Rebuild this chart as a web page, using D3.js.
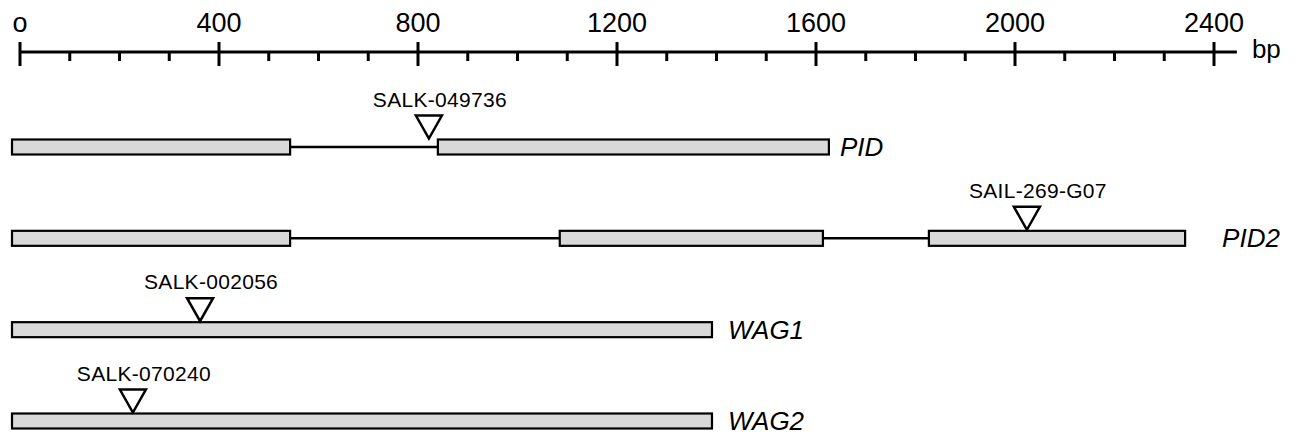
<!DOCTYPE html>
<html>
<head>
<meta charset="utf-8">
<script src="https://cdn.jsdelivr.net/npm/d3@7"></script>
<style>
  body { margin: 0; background: #fff; }
  text { font-family: "Liberation Sans", Arial, Helvetica, sans-serif; fill: #000; }
</style>
</head>
<body>
<div id="container"></div>
<script>
// window size
let cwW = 1302;
let cwH = 437;

// axis (bp)
const majorTicks = [0, 400, 800, 1200, 1600, 2000, 2400];
const tickLabels = ["o", "400", "800", "1200", "1600", "2000", "2400"];
const minorTicks = [100, 200, 300, 500, 600, 700, 900, 1000, 1100, 1300, 1400, 1500,
                    1700, 1800, 1900, 2100, 2200, 2300];
const axisEnd = 2446;

// genes, exons in bp
const genes = ["PID", "PID2", "WAG1", "WAG2"];
const exonStarts = [[0, 856], [0, 1101, 1843], [0], [0]];
const exonEnds = [[559, 1642], [559, 1630, 2358], [1407], [1407]];

// T-DNA insertions
const insertNames = ["SALK-049736", "SAIL-269-G07", "SALK-002056", "SALK-070240"];
const insertPos = [838, 2040, 378, 243];

// layout bits
const geneShift = -8;           // gene track sits a little left of the ruler
const labelGap = [11, 37, 16, 16];
const exonH = 15;
const triW = 26, triH = 23;

let x = d3.scaleLinear().domain([0, 2400]).range([20, 1214]);
let y = d3.scalePoint().domain(genes).range([147, 421]);

let svgArea = d3.select("#container").append("svg")
                .attr("width", cwW)
                .attr("height", cwH);

/**************************
* Ruler
**************************/
let ruler = svgArea.append("g").attr("id", "ruler");
const axisY = 52;

ruler.append("line")
  .attr("x1", x(0)).attr("x2", x(axisEnd))
  .attr("y1", axisY).attr("y2", axisY)
  .attr("stroke", "#000").attr("stroke-width", 3);

ruler.selectAll("line.major")
  .data(majorTicks)
  .enter().append("line")
  .attr("class", "major")
  .attr("x1", d => x(d)).attr("x2", d => x(d))
  .attr("y1", axisY - 10).attr("y2", axisY + 14)
  .attr("stroke", "#000").attr("stroke-width", 3);

ruler.selectAll("line.minor")
  .data(minorTicks)
  .enter().append("line")
  .attr("class", "minor")
  .attr("x1", d => x(d)).attr("x2", d => x(d))
  .attr("y1", axisY).attr("y2", axisY + 9)
  .attr("stroke", "#000").attr("stroke-width", 3);

ruler.selectAll("text")
  .data(majorTicks)
  .enter().append("text")
  .attr("x", d => x(d))
  .attr("y", 32)
  .attr("text-anchor", "middle")
  .attr("font-size", 27)
  .text((d, i) => tickLabels[i]);

ruler.append("text")
  .attr("x", x(axisEnd) + 15)
  .attr("y", 58)
  .attr("font-size", 26)
  .text("bp");

/**************************
* Genes
**************************/
let track = svgArea.append("g")
  .attr("id", "genes")
  .attr("transform", "translate(" + geneShift + ",0)");

genes.forEach(function(g, i){
  let cy = y(g);
  let row = track.append("g").attr("class", "gene");
  let starts = exonStarts[i], ends = exonEnds[i];

  // intron line
  row.append("line")
    .attr("x1", x(starts[0])).attr("x2", x(ends[ends.length - 1]))
    .attr("y1", cy).attr("y2", cy)
    .attr("stroke", "#000").attr("stroke-width", 2.5);

  // exons
  row.selectAll("rect")
    .data(starts)
    .enter().append("rect")
    .attr("x", d => x(d))
    .attr("y", cy - exonH / 2)
    .attr("width", (d, j) => x(ends[j]) - x(d))
    .attr("height", exonH)
    .attr("fill", "#d9d9d9")
    .attr("stroke", "#000")
    .attr("stroke-width", 2.2);

  // insertion triangle
  let tx = x(insertPos[i]);
  let tipY = cy - exonH / 2 - 1;
  row.append("path")
    .attr("d", "M" + (tx - triW / 2) + "," + (tipY - triH) +
               "L" + (tx + triW / 2) + "," + (tipY - triH) +
               "L" + tx + "," + tipY + "Z")
    .attr("fill", "#fff")
    .attr("stroke", "#000")
    .attr("stroke-width", 2.5)
    .attr("stroke-linejoin", "miter");

  row.append("text")
    .attr("x", tx + 11)
    .attr("y", tipY - triH - 9)
    .attr("text-anchor", "middle")
    .attr("font-size", 21)
    .attr("letter-spacing", 0.3)
    .text(insertNames[i]);

  // gene name
  row.append("text")
    .attr("x", x(ends[ends.length - 1]) + labelGap[i])
    .attr("y", cy + 9)
    .attr("font-size", 26)
    .attr("font-style", "italic")
    .text(g);
});
</script>
</body>
</html>
